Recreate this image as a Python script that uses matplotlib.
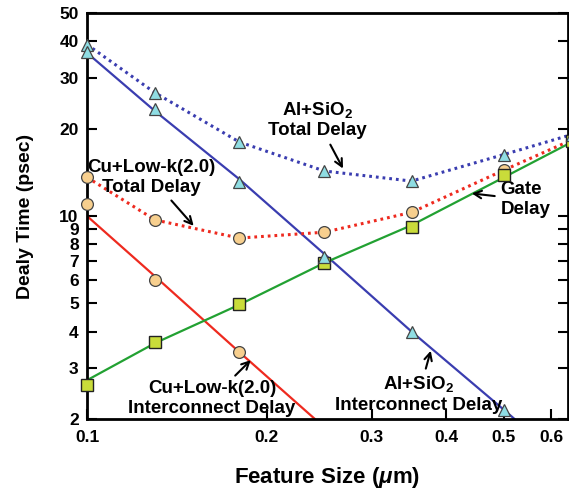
import matplotlib
matplotlib.use("Agg")
import matplotlib.pyplot as plt
from matplotlib.ticker import FixedLocator, NullLocator, FixedFormatter

plt.rcParams['font.family'] = ['Liberation Sans', 'DejaVu Sans']
plt.rcParams['font.weight'] = 'bold'
plt.rcParams['mathtext.fontset'] = 'custom'
plt.rcParams['mathtext.rm'] = 'Liberation Sans:bold'
plt.rcParams['mathtext.it'] = 'Liberation Sans:bold:italic'

# feature sizes (um)
size = [0.1, 0.13, 0.18, 0.25, 0.35, 0.5, 0.65]

# measured points
al_total = [39, 26.6, 18.0, 14.3, 13.2, 16.3, 19.1]
al_inter = [36.9, 23.3, 13.1, 7.2, 4.0, 2.15]
cu_total = [13.6, 9.7, 8.4, 8.8, 10.3, 14.4, 18.3]
cu_inter = [11.0, 6.0, 3.4]
gate = [2.62, 3.69, 4.99, 6.9, 9.2, 13.8, 18.2]

# straight fit lines
al_inter_fit = [36.5, 23.0, 13.4, 7.4, 4.0, 2.15, 1.35]
cu_inter_fit = [10.0, 6.2, 3.4, 1.87]
gate_fit = [2.72, 3.65, 4.95, 6.9, 9.3, 13.6, 18.0]

yticks = [2, 3, 4, 5, 6, 7, 8, 9, 10, 20, 30, 40, 50]
xticks = [0.1, 0.2, 0.3, 0.4, 0.5, 0.6]

blue = '#3a3db0'
red = '#ee2a1f'
green = '#22a132'
dots = (0, (0.9, 1.3))

fig = plt.figure(figsize=(5.69, 4.9), dpi=100)
ax = fig.add_axes([0.153, 0.145, 0.845, 0.828])

ax.plot(size, al_total, linestyle=dots, color=blue, lw=2.2, zorder=2)
ax.plot(size[:len(al_inter_fit)], al_inter_fit, '-', color=blue, lw=1.6, zorder=2)
ax.plot(size, cu_total, linestyle=dots, color=red, lw=2.2, zorder=2)
ax.plot(size[:len(cu_inter_fit)], cu_inter_fit, '-', color=red, lw=1.6, zorder=2)
ax.plot(size, gate_fit, '-', color=green, lw=1.6, zorder=2)

ax.plot(size, cu_total, 'o', ms=8.5, mfc='#f7cf8e', mec='#444444', mew=0.9, zorder=3, clip_on=False)
ax.plot(size[:len(cu_inter)], cu_inter, 'o', ms=8.5, mfc='#f7cf8e', mec='#444444', mew=0.9, zorder=4, clip_on=False)
ax.plot(size, gate, 's', ms=8.5, mfc='#c9dc3a', mec='#222222', mew=1.0, zorder=4, clip_on=False)
ax.plot(size, al_total, '^', ms=9, mfc='#8fdde3', mec='#444444', mew=0.9, zorder=5, clip_on=False)
ax.plot(size[:len(al_inter)], al_inter, '^', ms=9, mfc='#8fdde3', mec='#444444', mew=0.9, zorder=5, clip_on=False)

ax.set_xscale('log')
ax.set_yscale('log')
ax.set_xlim(0.1, 0.64)
ax.set_ylim(2, 50)

ax.xaxis.set_major_locator(FixedLocator(xticks))
ax.xaxis.set_major_formatter(FixedFormatter([str(t) for t in xticks]))
ax.xaxis.set_minor_locator(NullLocator())
ax.yaxis.set_major_locator(FixedLocator(yticks))
ax.yaxis.set_major_formatter(FixedFormatter([str(t) for t in yticks]))
ax.yaxis.set_minor_locator(NullLocator())

ax.tick_params(axis='both', direction='in', length=7, width=1.5, labelsize=12.5, pad=8)
ax.tick_params(axis='y', right=True, pad=6)
for s in ax.spines.values():
    s.set_linewidth(2)

ax.set_xlabel('Feature Size ($\\mu$m)', fontsize=16, fontweight='bold', labelpad=14)
ax.set_ylabel('Dealy Time (psec)', fontsize=14, fontweight='bold', labelpad=18)

arr = dict(arrowstyle='->', color='black', lw=1.5)
fs = 13.5
ax.annotate('Al+SiO$_2$\nTotal Delay', xy=(0.27, 14.3), xytext=(0.243, 21.5),
            ha='center', va='center', fontsize=fs, arrowprops=arr)
ax.annotate('Cu+Low-k(2.0)\nTotal Delay', xy=(0.152, 9.1), xytext=(0.128, 13.6),
            ha='center', va='center', fontsize=fs, arrowprops=arr)
ax.annotate('Gate\nDelay', xy=(0.437, 12.0), xytext=(0.493, 11.4),
            ha='left', va='center', multialignment='left', fontsize=fs,
            arrowprops=dict(arr, shrinkA=2))
ax.annotate('Cu+Low-k(2.0)\nInterconnect Delay', xy=(0.1896, 3.24), xytext=(0.162, 2.35),
            ha='center', va='center', fontsize=fs, arrowprops=arr)
ax.annotate('Al+SiO$_2$\nInterconnect Delay', xy=(0.378, 3.51), xytext=(0.36, 2.44),
            ha='center', va='center', fontsize=fs, arrowprops=arr)

fig.savefig('out.png', dpi=100)
